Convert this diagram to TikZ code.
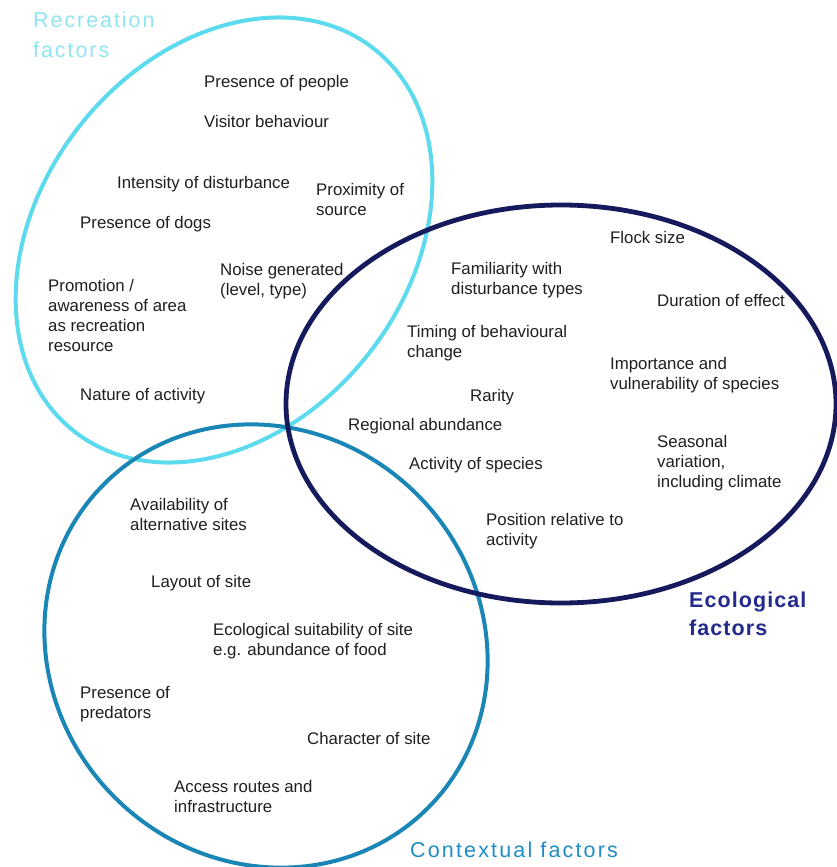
\documentclass[tikz,border=0pt]{standalone}
\usepackage{fontspec}
\setmainfont{Liberation Sans}
\setsansfont{Liberation Sans}
\begin{document}
\definecolor{recline}{HTML}{5CDAEE}
\definecolor{rectitle}{HTML}{8FE6EE}
\definecolor{ecoline}{HTML}{141A5C}
\definecolor{ecotitle}{HTML}{232A8C}
\definecolor{conline}{HTML}{1A86B6}
\definecolor{contitle}{HTML}{1E8EC8}
\begin{tikzpicture}[x=1pt,y=-1pt,
  item/.style={anchor=north west,inner sep=0pt,align=left,
    font=\fontsize{16.8}{20}\selectfont,text=black!88},
  titletext/.style={anchor=north west,inner sep=0pt,align=left},
  ring/.style={line width=4pt}]
\useasboundingbox (0,0) rectangle (837,867);
\fill[white] (0,0) rectangle (837,867);

% the three overlapping factor groups
\draw[ring,recline,shift={(224,240)},rotate=52] (0,0) ellipse [x radius=243pt,y radius=184pt];
\draw[ring,conline,shift={(266,646)},rotate=-45] (0,0) ellipse [x radius=229pt,y radius=214pt];
\draw[ring,ecoline,line width=4.8pt,shift={(561,404)}] (0,0) ellipse [x radius=275pt,y radius=199pt];

% group titles
\node[titletext,text=rectitle,font=\fontsize{21.5}{30}\selectfont\addfontfeatures{LetterSpace=9}] (rectitle) at (33,12) {Recreation\\factors};
\node[titletext,text=ecotitle,font=\fontsize{21.5}{28}\selectfont\bfseries\addfontfeatures{LetterSpace=5}] (ecotitle) at (689,592) {Ecological\\factors};
\node[titletext,text=contitle,font=\fontsize{21.5}{28}\selectfont\addfontfeatures{LetterSpace=10}] (contitle) at (410,842) {Contextual factors};

% recreation factors
\node[item] (people) at (204,75) {Presence of people};
\node[item] (visitor) at (204,115) {Visitor behaviour};
\node[item] (intensity) at (117,176) {Intensity of disturbance};
\node[item] (proximity) at (316,183) {Proximity of\\source};
\node[item] (dogs) at (80,216) {Presence of dogs};
\node[item] (noise) at (220,263) {Noise generated\\(level, type)};
\node[item] (promotion) at (48,279) {Promotion /\\awareness of area\\as recreation\\resource};
\node[item] (nature) at (80,388) {Nature of activity};

% ecological factors
\node[item] (flock) at (610,231) {Flock size};
\node[item] (familiar) at (451,262) {Familiarity with\\disturbance types};
\node[item] (duration) at (657,294) {Duration of effect};
\node[item] (timing) at (407,325) {Timing of behavioural\\change};
\node[item] (importance) at (610,357) {Importance and\\vulnerability of species};
\node[item] (rarity) at (470,389) {Rarity};
\node[item] (regional) at (348,418) {Regional abundance};
\node[item] (seasonal) at (657,435) {Seasonal\\variation,\\including climate};
\node[item] (activity) at (409,457) {Activity of species};
\node[item] (position) at (486,513) {Position relative to\\activity};

% contextual factors
\node[item] (alternative) at (130,498) {Availability of\\alternative sites};
\node[item] (layout) at (151,575) {Layout of site};
\node[item] (suitability) at (213,623) {Ecological suitability of site\\e.g. abundance of food};
\node[item] (predators) at (80,686) {Presence of\\predators};
\node[item] (character) at (307,732) {Character of site};
\node[item] (access) at (174,780) {Access routes and\\infrastructure};
\end{tikzpicture}
\end{document}
